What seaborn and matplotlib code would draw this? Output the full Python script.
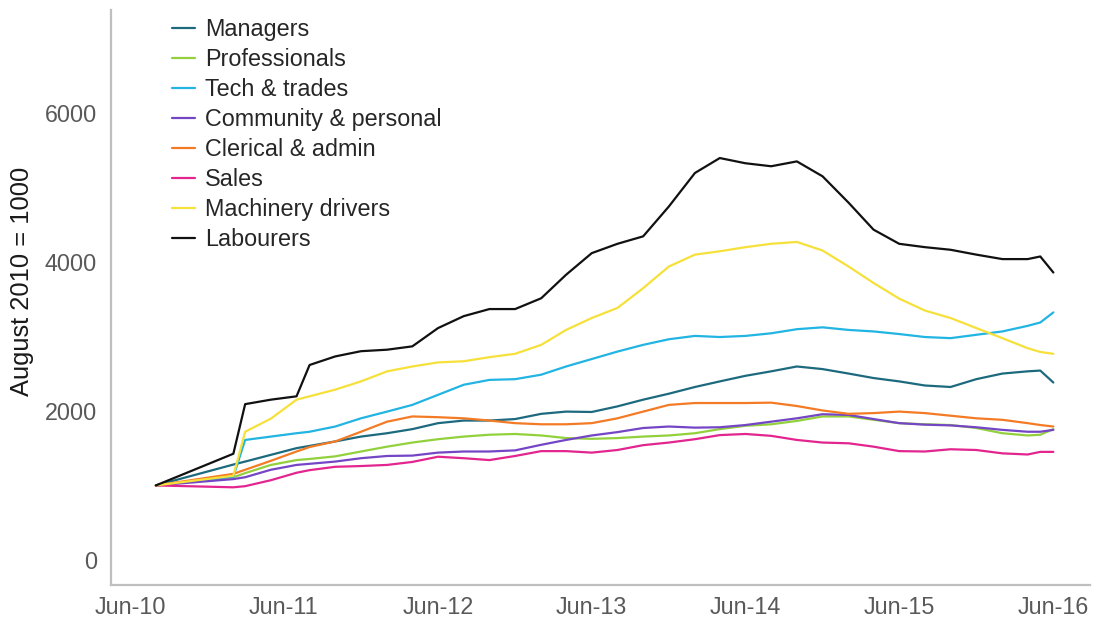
import numpy as np
import pandas as pd
import matplotlib
matplotlib.use('Agg')
import matplotlib.pyplot as plt
import matplotlib.dates as mdates
import seaborn as sns


# ── Data (index, August 2010 = 1000) ─────────────────────────────────────────

months = [
    '2010-08', '2011-02', '2011-03', '2011-05', '2011-07', '2011-08',
    '2011-10', '2011-12', '2012-02', '2012-04', '2012-06', '2012-08',
    '2012-10', '2012-12', '2013-02', '2013-04', '2013-06', '2013-08',
    '2013-10', '2013-12', '2014-02', '2014-04', '2014-06', '2014-08',
    '2014-10', '2014-12', '2015-02', '2015-04', '2015-06', '2015-08',
    '2015-10', '2015-12', '2016-02', '2016-04', '2016-05', '2016-06',
]

managers = [
    1000, 1280, 1320, 1410, 1500, 1530, 1590, 1655, 1700, 1755, 1835, 1870,
    1870, 1890, 1960, 1990, 1985, 2060, 2150, 2230, 2320, 2395, 2470, 2530,
    2595, 2560, 2500, 2440, 2395, 2340, 2320, 2425, 2500, 2530, 2540, 2380,
]
professionals = [
    1000, 1110, 1165, 1275, 1340, 1355, 1390, 1455, 1520, 1575, 1620, 1655,
    1680, 1690, 1670, 1635, 1625, 1635, 1655, 1670, 1700, 1755, 1800, 1820,
    1865, 1925, 1925, 1880, 1835, 1820, 1810, 1770, 1700, 1670, 1680, 1755,
]
tech_trades = [
    1000, 1120, 1610, 1655, 1700, 1720, 1790, 1900, 1990, 2080, 2215, 2350,
    2415, 2425, 2485, 2595, 2695, 2795, 2885, 2960, 3005, 2990, 3005, 3040,
    3095, 3120, 3085, 3065, 3030, 2990, 2975, 3020, 3065, 3140, 3185, 3320,
]
community = [
    1000, 1085, 1110, 1210, 1275, 1290, 1320, 1365, 1395, 1400, 1440, 1455,
    1455, 1470, 1545, 1610, 1670, 1715, 1770, 1790, 1775, 1780, 1810, 1855,
    1900, 1955, 1945, 1890, 1835, 1815, 1805, 1780, 1745, 1720, 1720, 1745,
]
clerical = [
    1000, 1155, 1210, 1330, 1455, 1515, 1590, 1720, 1855, 1925, 1915, 1900,
    1870, 1835, 1820, 1820, 1835, 1900, 1990, 2080, 2105, 2105, 2105, 2110,
    2065, 2005, 1960, 1970, 1990, 1970, 1935, 1900, 1880, 1835, 1810, 1790,
]
sales = [
    1000, 975, 990, 1070, 1170, 1205, 1250, 1260, 1275, 1315, 1385, 1365,
    1340, 1395, 1460, 1460, 1440, 1475, 1540, 1575, 1620, 1675, 1690, 1665,
    1610, 1575, 1565, 1520, 1460, 1455, 1485, 1475, 1430, 1415, 1450, 1450,
]
machinery = [
    1000, 1130, 1720, 1895, 2150, 2195, 2285, 2395, 2530, 2595, 2650, 2665,
    2720, 2765, 2885, 3085, 3245, 3380, 3645, 3935, 4095, 4140, 4195, 4240,
    4265, 4150, 3935, 3715, 3505, 3345, 3245, 3110, 2975, 2840, 2790, 2765,
]
labourers = [
    1000, 1425, 2090, 2150, 2195, 2615, 2730, 2800, 2820, 2865, 3110, 3270,
    3365, 3365, 3510, 3825, 4115, 4240, 4340, 4740, 5190, 5390, 5320, 5280,
    5345, 5145, 4790, 4430, 4240, 4195, 4160, 4095, 4035, 4035, 4070, 3855,
]

series = {
    'Managers': managers,
    'Professionals': professionals,
    'Tech & trades': tech_trades,
    'Community & personal': community,
    'Clerical & admin': clerical,
    'Sales': sales,
    'Machinery drivers': machinery,
    'Labourers': labourers,
}

colours = {
    'Managers': '#1D6A7E',
    'Professionals': '#92D13C',
    'Tech & trades': '#22B4E2',
    'Community & personal': '#7446C6',
    'Clerical & admin': '#F47B25',
    'Sales': '#E2258F',
    'Machinery drivers': '#F6E03A',
    'Labourers': '#111111',
}

df = pd.DataFrame(series)
df['month'] = pd.to_datetime(months)
df = df.melt(id_vars='month', var_name='occupation', value_name='index')


# ── Chart ────────────────────────────────────────────────────────────────────

sns.set_style('white')
plt.rcParams['font.family'] = ['Liberation Sans', 'DejaVu Sans']

fig = plt.figure(figsize=(10.97, 6.22), dpi=100)
ax = fig.add_axes([0.101, 0.0595, 0.893, 0.925])

sns.lineplot(data=df, x='month', y='index', hue='occupation',
             hue_order=list(series), palette=colours,
             linewidth=1.6, ax=ax)

ax.set_xlim(pd.Timestamp('2010-04-16'), pd.Timestamp('2016-08-28'))
ax.set_ylim(-335, 7380)
ax.set_yticks([0, 2000, 4000, 6000])
ax.set_xticks(pd.to_datetime(['2010-06-01', '2011-06-01', '2012-06-01',
                              '2013-06-01', '2014-06-01', '2015-06-01',
                              '2016-06-01']))
ax.xaxis.set_major_formatter(mdates.DateFormatter('%b-%y'))

ax.set_xlabel('')
ax.set_ylabel('August 2010 = 1000', fontsize=18.4, color='#1a1a1a')
ax.yaxis.set_label_coords(-0.078, 0.527)
ax.tick_params(axis='both', length=0, labelsize=16.8, labelcolor='#595959')
ax.tick_params(axis='x', pad=8)
ax.tick_params(axis='y', pad=10)

for side in ['top', 'right']:
    ax.spines[side].set_visible(False)
for side in ['left', 'bottom']:
    ax.spines[side].set_color('#BFBFBF')
    ax.spines[side].set_linewidth(1.6)

ax.legend(loc='upper left', bbox_to_anchor=(0.062, 0.986), frameon=False,
          fontsize=16.8, handlelength=1.0, handletextpad=0.45,
          labelspacing=0.30, borderpad=0, borderaxespad=0)

fig.savefig('out.png', dpi=100)
